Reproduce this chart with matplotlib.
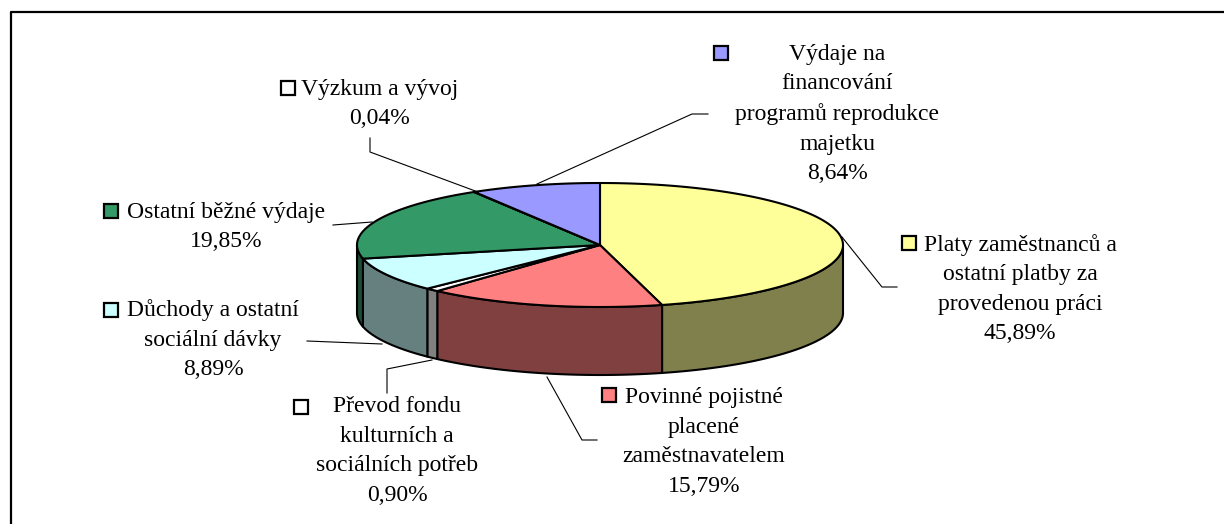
import numpy as np
import matplotlib
matplotlib.use("Agg")
import matplotlib.pyplot as plt
from matplotlib.patches import Polygon, Rectangle

# Struktura výdajů (v %), po směru hodinových ručiček od 12 hodin
polozky = [
    "Platy zaměstnanců a\nostatní platby za\nprovedenou práci",
    "Povinné pojistné\nplacené\nzaměstnavatelem",
    "Převod fondu\nkulturních a\nsociálních potřeb",
    "Důchody a ostatní\nsociální dávky",
    "Ostatní běžné výdaje",
    "Výzkum a vývoj",
    "Výdaje na\nfinancování\nprogramů reprodukce\nmajetku",
]
podily = [45.89, 15.79, 0.90, 8.89, 19.85, 0.04, 8.64]

barvy = ["#FFFF99", "#FF8080", "#FFFFFF", "#CCFFFF", "#339966", "#FFFFFF", "#9999FF"]
barvy_bok = ["#80804D", "#804040", "#808080", "#668080", "#1A4D33", "#808080", "#4D4D80"]

# umístění popisků (střed bloku textu, střed klíče) v pixelech
pozice_textu = [(1020, 289), (704, 442), (397, 451), (213, 340), (226, 227), (380, 104), (837, 114)]
pozice_klice = [(909, 243), (609, 395), (301, 407), (111, 310), (111, 211), (288, 88), (721, 53)]
vodici_cary = [
    [(842, 237), (882, 287), (897, 287)],
    [(547, 377), (582, 440), (597, 440)],
    [(432, 360), (387, 369), (387, 393)],
    [(382, 344), (307, 341)],
    [(372, 222), (333, 225)],
    [(478, 192), (370, 152), (370, 138)],
    [(537, 184), (692, 114), (708, 114)],
]

CX, CY, RX, RY, HLOUBKA = 600, 245, 243, 62, 68


def oblouk(t0, t1, dy=0.0):
    t = np.radians(np.linspace(t0, t1, max(2, int(abs(t1 - t0) * 2) + 2)))
    return np.column_stack([CX + RX * np.sin(t), CY - RY * np.cos(t) + dy])


fig = plt.figure(figsize=(12.24, 5.24), dpi=100)
fig.patch.set_facecolor("white")
ax = fig.add_axes([0, 0, 1, 1])
ax.set_xlim(0, 1224)
ax.set_ylim(524, 0)
ax.axis("off")

# rámeček grafu
ax.plot([11, 11, 1230], [530, 12, 12], color="black", lw=1.6, solid_capstyle="butt")

hranice = np.concatenate([[0], np.cumsum(podily)]) / sum(podily) * 360

# boky (jen přední polovina, 90° až 270°)
for i in range(len(podily)):
    a, b = max(hranice[i], 90), min(hranice[i + 1], 270)
    if b <= a:
        continue
    horni = oblouk(a, b)
    dolni = oblouk(a, b, HLOUBKA)[::-1]
    ax.add_patch(Polygon(np.vstack([horni, dolni]), closed=True,
                         facecolor=barvy_bok[i], edgecolor="black", lw=1.5,
                         joinstyle="round"))

# horní plochy
for i in range(len(podily)):
    body = np.vstack([[CX, CY], oblouk(hranice[i], hranice[i + 1])])
    ax.add_patch(Polygon(body, closed=True, facecolor=barvy[i],
                         edgecolor="black", lw=1.5, joinstyle="round"))

# popisky
for i, nazev in enumerate(polozky):
    pct = f"{podily[i]:.2f}%".replace(".", ",")
    tx, ty = pozice_textu[i]
    ax.text(tx, ty, nazev + "\n" + pct, ha="center", va="center",
            multialignment="center", fontsize=17, linespacing=1.53,
            family="Liberation Serif")
    kx, ky = pozice_klice[i]
    ax.add_patch(Rectangle((kx - 7, ky - 7), 14, 14, facecolor=barvy[i],
                           edgecolor="black", lw=1.6))
    xs, ys = zip(*vodici_cary[i])
    ax.plot(xs, ys, color="black", lw=0.8)

fig.savefig("out.png", dpi=100, facecolor="white")
